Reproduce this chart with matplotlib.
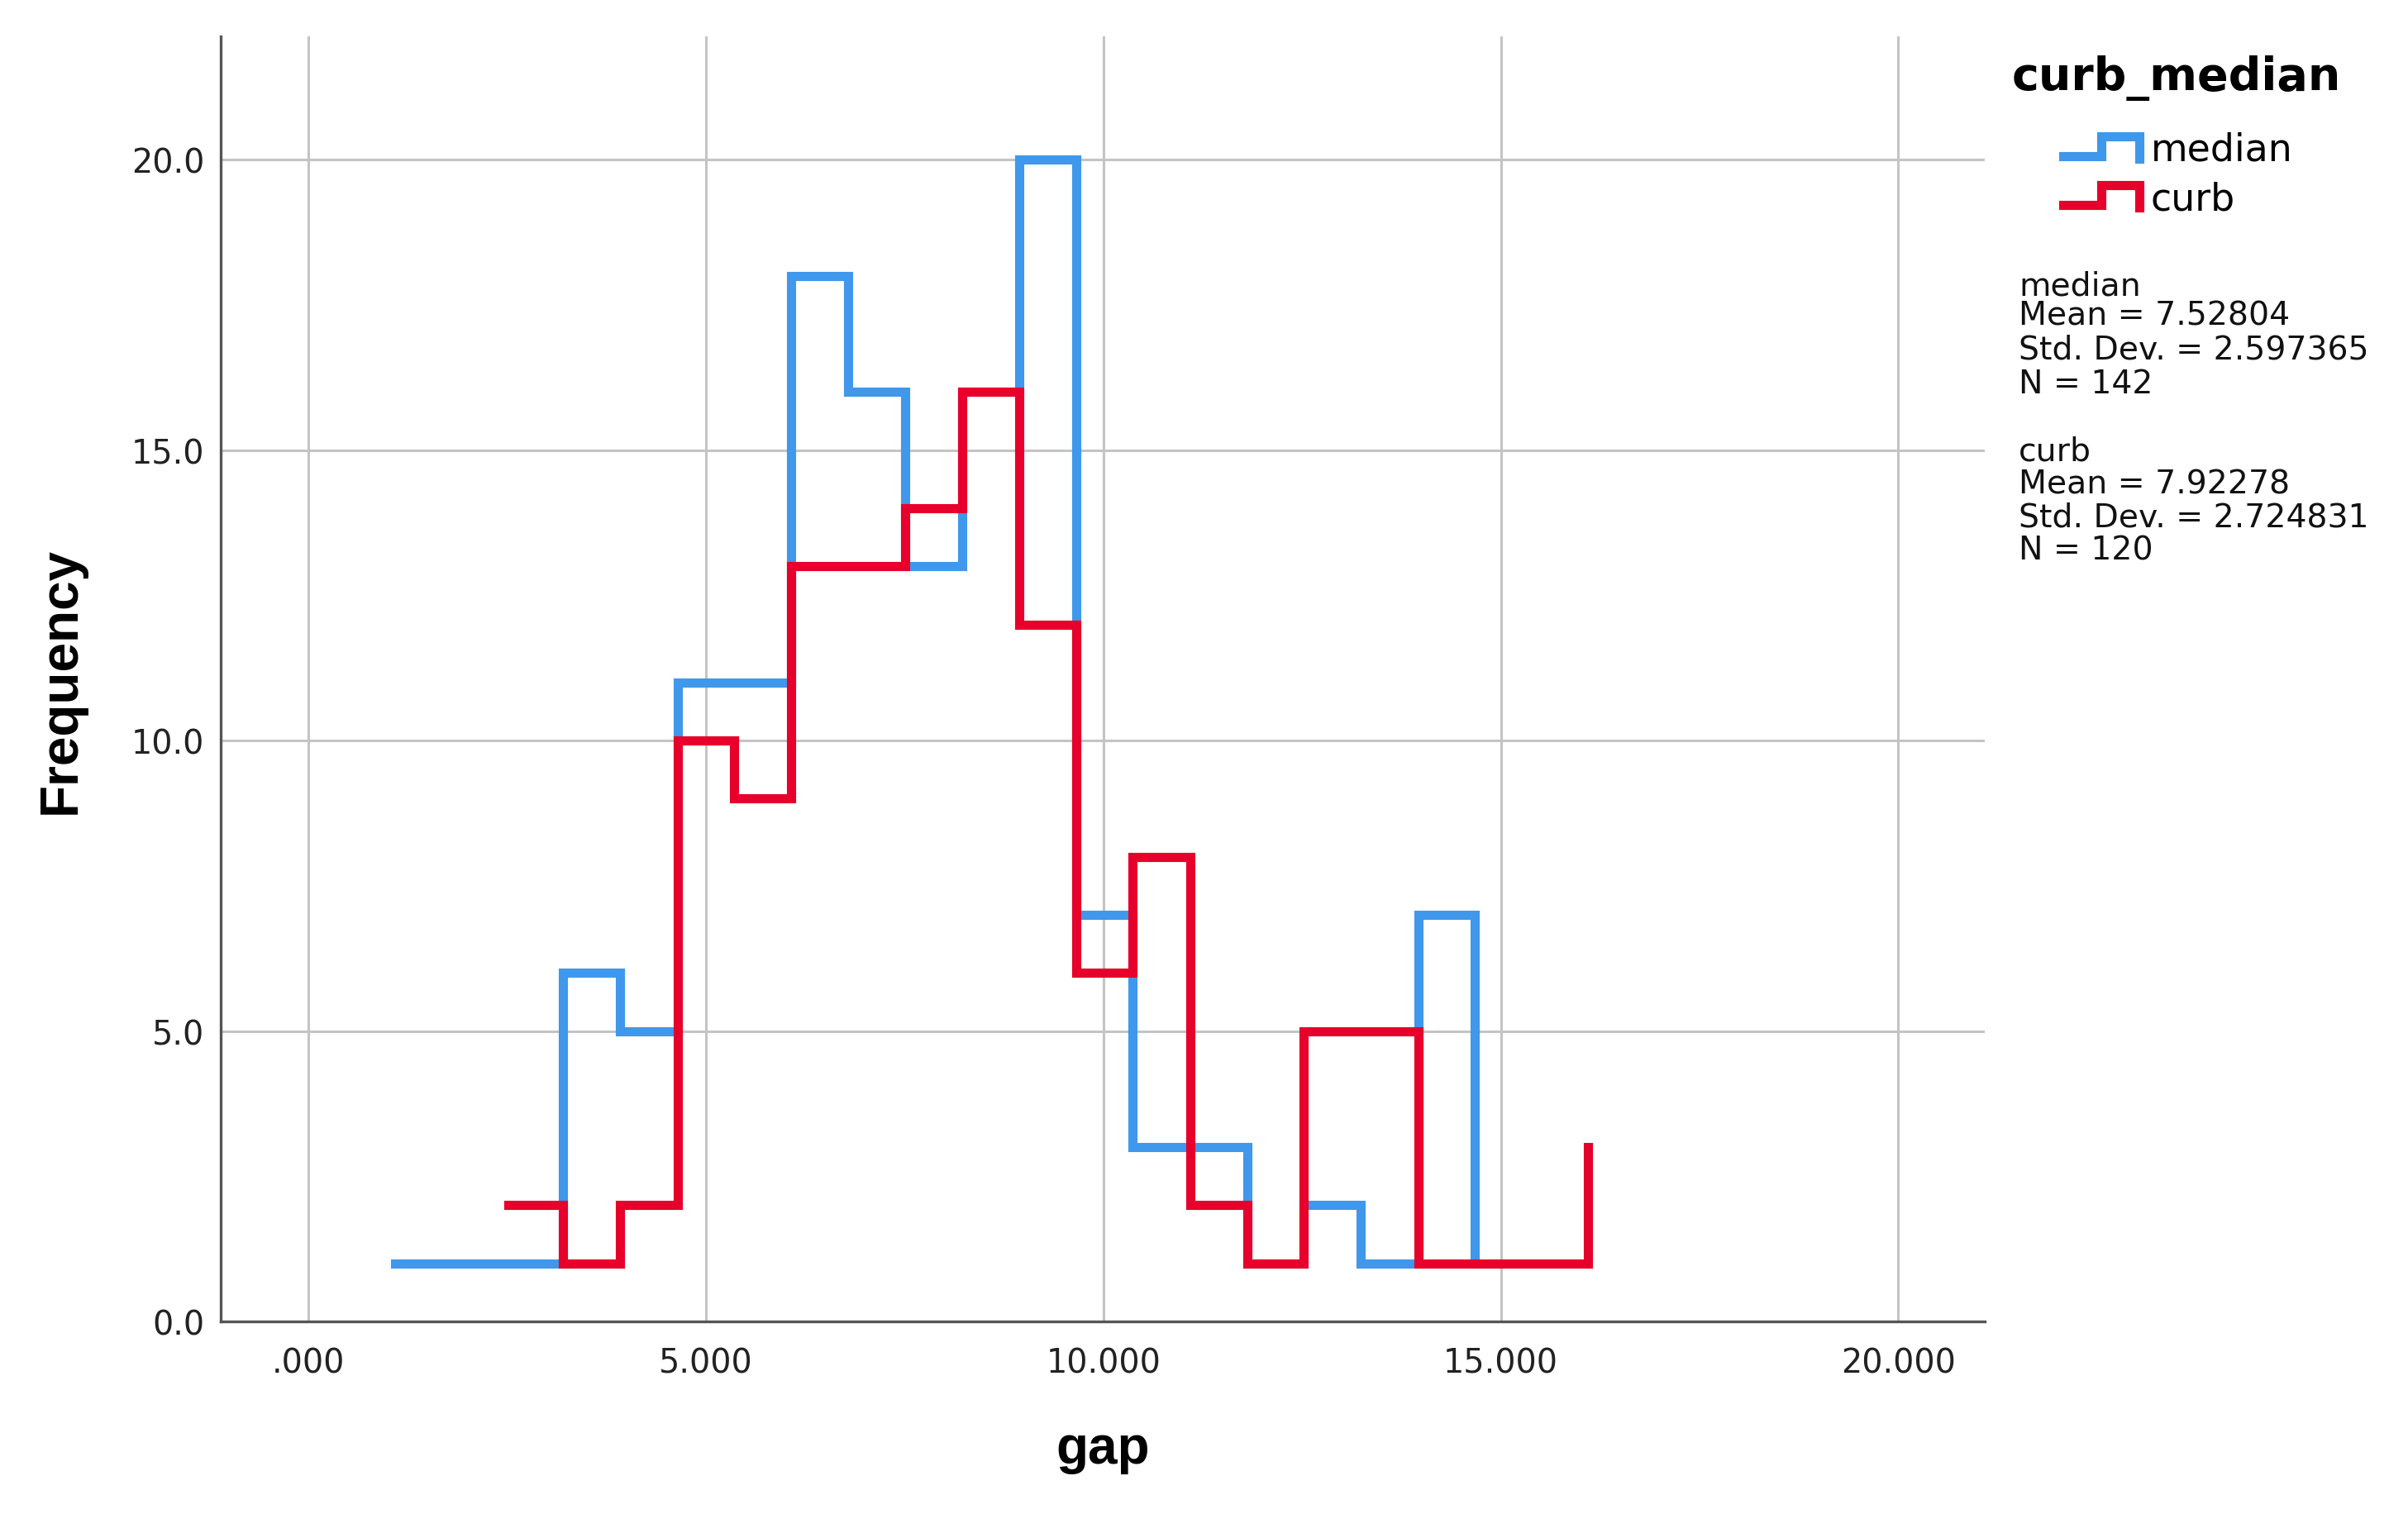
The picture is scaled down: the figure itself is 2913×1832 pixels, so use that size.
import matplotlib
matplotlib.use("Agg")
import matplotlib.pyplot as plt

# gap value of each non-empty bin and its count
median_gap = [1.09, 3.20, 3.92, 4.64, 5.35, 6.07, 6.79, 7.51, 8.22,
              8.94, 9.66, 10.37, 11.09, 11.81, 12.52, 13.24, 13.96, 14.67]
median_freq = [1, 6, 5, 11, 11, 18, 16, 13, 16,
               20, 7, 3, 3, 1, 2, 1, 7, 1]

curb_gap = [2.51, 3.20, 3.92, 4.64, 5.35, 6.07, 6.79, 7.51, 8.22, 8.94,
            9.66, 10.37, 11.09, 11.81, 12.52, 13.96, 14.67, 15.39, 16.10]
curb_freq = [2, 1, 2, 10, 9, 13, 13, 14, 16, 12,
             6, 8, 2, 1, 5, 1, 1, 1, 3]

x_ticks = [0, 5, 10, 15, 20]
x_tick_labels = [".000", "5.000", "10.000", "15.000", "20.000"]
y_ticks = [0, 5, 10, 15, 20]
y_tick_labels = ["0.0", "5.0", "10.0", "15.0", "20.0"]

stats_lines = ["median", "Mean = 7.52804", "Std. Dev. = 2.597365", "N = 142",
               "curb", "Mean = 7.92278", "Std. Dev. = 2.724831", "N = 120"]

BLUE = "#3f98eb"
RED = "#e6002b"
W, H = 2913, 1833

plt.rcParams['font.family'] = ['DejaVu Sans']
fig = plt.figure(figsize=(W / 200, H / 200), dpi=200)
ax = fig.add_axes([0.09155, 0.12711, 0.7327, 0.84856])

ax.step(median_gap, median_freq, where='post', color=BLUE, lw=4.0,
        solid_joinstyle='miter', zorder=3)
ax.step(curb_gap, curb_freq, where='post', color=RED, lw=4.0,
        solid_joinstyle='miter', zorder=4)

ax.set_xlim(-1.11, 21.09)
ax.set_ylim(0, 22.13)
ax.set_xticks(x_ticks, x_tick_labels)
ax.set_yticks(y_ticks, y_tick_labels)
ax.tick_params(length=0, labelsize=14.3, colors="#222222")
ax.tick_params(axis='x', pad=11)
ax.tick_params(axis='y', pad=7)
ax.grid(True, color="#c4c4c4", lw=1.1, zorder=0)
ax.set_axisbelow(True)
for s in ['top', 'right']:
    ax.spines[s].set_visible(False)
for s in ['left', 'bottom']:
    ax.spines[s].set_color("#555555")
    ax.spines[s].set_linewidth(1.2)

ax.set_xlabel("gap", fontsize=23, fontweight='bold', family='Liberation Sans',
              va='center')
ax.xaxis.set_label_coords(0.5, -0.099)
ax.set_ylabel("Frequency", fontsize=23, fontweight='bold',
              family='Liberation Sans', va='center', ha='center')
ax.yaxis.set_label_coords(-0.0903, 0.4995)

# legend and summary text, placed in pixel coordinates
ov = fig.add_axes([0, 0, 1, 1])
ov.set_xlim(0, W)
ov.set_ylim(H, 0)
ov.axis('off')

ov.text(2434, 94, "curb_median", fontsize=20, fontweight='bold', va='center',
        ha='left')
for col, name, y_lo, y_hi, y_txt in [(BLUE, "median", 190, 166, 182),
                                     (RED, "curb", 249, 225, 242)]:
    ov.plot([2496, 2542, 2542, 2588, 2588], [y_lo, y_lo, y_hi, y_hi, y_lo + 3],
            color=col, lw=4.0, solid_joinstyle='miter')
    ov.text(2602, y_txt, name, fontsize=16.5, va='center', ha='left')

stats_y = [346, 382, 423, 465, 546, 586, 626, 666]
for line, yy in zip(stats_lines, stats_y):
    ov.text(2442, yy, line, fontsize=14.2, va='center', ha='left',
            color="#111111")

fig.savefig("out.png", dpi=200)
